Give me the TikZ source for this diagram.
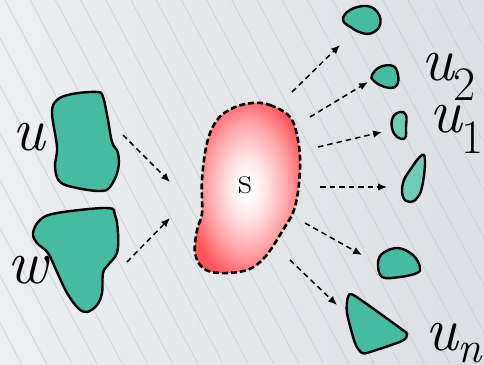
\documentclass[tikz,border=0pt]{standalone}
\usepackage{fontspec}
\usetikzlibrary{arrows.meta}
\definecolor{bgl}{HTML}{ECEEF1}
\definecolor{bgr}{HTML}{DCDFE3}
\definecolor{hatchc}{HTML}{C6CACF}
\definecolor{blobg}{HTML}{45BBA2}
\definecolor{blobl}{HTML}{6DCBB8}
\definecolor{redpale}{HTML}{FFE4E5}
\definecolor{redmid}{HTML}{FFA3A6}
\definecolor{redout}{HTML}{FF5459}
\pgfdeclareradialshading{sblob}{\pgfpoint{0bp}{0bp}}{color(0bp)=(white); color(2bp)=(white); color(9bp)=(redpale); color(19bp)=(redmid); color(28bp)=(redout); color(50bp)=(redout)}
\tikzset{
  hatch/.style={draw=hatchc, line width=0.5pt},
  blob/.style={draw=black, line width=2.4pt, fill=blobg},
  lblob/.style={draw=black, line width=2.4pt, fill=blobl},
  flow/.style={dash pattern=on 5.5pt off 4pt, line width=1.5pt, -{Latex[length=9pt,width=7.5pt]}},
  lab/.style={inner sep=0pt, anchor=base west, font=\fontsize{62}{62}\selectfont\itshape\addfontfeatures{FakeBold=1.5}},
}
\newcommand\subl[2]{\raisebox{#1}{\fontsize{48}{48}\selectfont\upshape\addfontfeatures{FakeBold=1.5}#2}}
\begin{document}
\begin{tikzpicture}[x=1pt,y=-1pt]
\useasboundingbox (0,0) rectangle (484,364);
\shade[left color=bgl, right color=bgr] (0,0) rectangle (484,364);
\begin{scope}
\clip (0,0) rectangle (484,364);
\foreach \k in {-9,...,20} \draw[hatch] ({5+25.2*\k},0) -- ++(193,364);
\end{scope}

% left blobs
\draw[blob] plot[smooth cycle, tension=0.6] coordinates {(52,113) (57,100) (72,94) (97,92) (103,97) (108,120) (112,142) (118,153) (118,170) (110,187) (100,191) (77,188) (60,182) (55,167) (57,147)};
\draw[blob] plot[smooth cycle, tension=0.6] coordinates {(33,233) (40,220) (57,213) (107,208) (115,215) (118,233) (117,253) (108,265) (103,273) (102,293) (97,305) (87,312) (78,308) (67,293) (57,272) (48,253) (37,243)};

% central blob
\path[shading=sblob] plot[smooth cycle, tension=0.6] coordinates {(252,103) (270,105) (290,117) (298,140) (300,170) (295,207) (283,230) (265,257) (247,270) (220,273) (203,268) (195,253) (197,230) (202,213) (202,180) (207,143) (217,120) (233,108)};
\draw[line width=2.6pt, dash pattern=on 6pt off 3pt] plot[smooth cycle, tension=0.6] coordinates {(252,103) (270,105) (290,117) (298,140) (300,170) (295,207) (283,230) (265,257) (247,270) (220,273) (203,268) (195,253) (197,230) (202,213) (202,180) (207,143) (217,120) (233,108)};
\node[inner sep=0pt, anchor=base, font=\fontsize{38}{38}\selectfont\addfontfeatures{FakeBold=1.5}] (s) at (245,193) {s};

% right blobs
\draw[blob] plot[smooth cycle, tension=0.7] coordinates {(343,20) (350,10) (367,6) (378,13) (380,25) (372,33) (362,33) (352,28)};
\draw[blob] plot[smooth cycle, tension=0.7] coordinates {(372,75) (380,67) (393,66) (398,75) (397,85) (390,88) (380,85) (373,80)};
\draw[lblob] plot[smooth cycle, tension=0.7] coordinates {(393,117) (400,112) (406,115) (406,127) (405,138) (397,137) (392,128)};
\draw[lblob] plot[smooth cycle, tension=0.7] coordinates {(422,155) (425,163) (422,187) (417,198) (410,202) (403,197) (403,183) (410,170)};
\draw[blob] plot[smooth cycle, tension=0.6] coordinates {(378,263) (383,253) (398,248) (413,255) (420,267) (417,273) (400,277) (382,277)};
\draw[blob] plot[smooth cycle, tension=0.45] coordinates {(348,297) (355,296) (400,328) (407,334) (402,341) (370,352) (362,353) (355,343) (347,313)};

% labels
\node[lab] (lu) at (12,150) {u};
\node[lab] (lw) at (7,283) {w};
\node[lab] (lu2) at (421,80) {u\subl{-20pt}{2}};
\node[lab] (lu1) at (429,132) {u\subl{-21pt}{1}};
\node[lab] (lun) at (425,350) {u\raisebox{-12pt}{\fontsize{44}{44}\selectfont\itshape\addfontfeatures{FakeBold=1.5}n}};

% arrow end points
\coordinate (a1s) at (123,135); \coordinate (a1e) at (170,182);
\coordinate (a2s) at (127,262); \coordinate (a2e) at (170,218);
\coordinate (r1s) at (292,92);  \coordinate (r1e) at (340,45);
\coordinate (r2s) at (310,117); \coordinate (r2e) at (368,82);
\coordinate (r3s) at (318,147); \coordinate (r3e) at (382,132);
\coordinate (r4s) at (320,187); \coordinate (r4e) at (387,187);
\coordinate (r5s) at (305,223); \coordinate (r5e) at (362,255);
\coordinate (r6s) at (290,260); \coordinate (r6e) at (337,305);
\foreach \p in {a1,a2,r1,r2,r3,r4,r5,r6} \draw[flow] (\p s) -- (\p e);
\end{tikzpicture}
\end{document}
